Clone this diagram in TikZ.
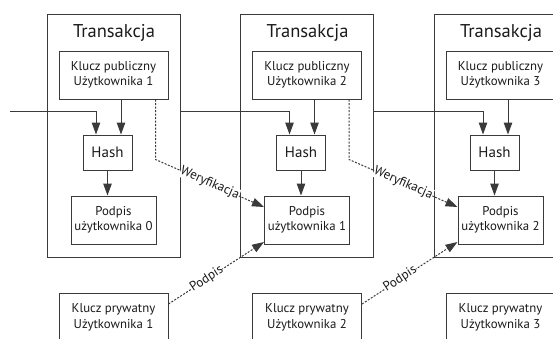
\documentclass[tikz,border=0pt]{standalone}
\usepackage{fontspec}
\setmainfont{PT Sans}
\usepackage{tikz}
\usetikzlibrary{arrows.meta, positioning}
\definecolor{bcline}{HTML}{3A3A3A}
\definecolor{bctext}{HTML}{1A1A1A}

\begin{document}
\begin{tikzpicture}[x=1pt, y=-1pt,
  txbox/.style={draw=bcline, line width=1pt, minimum width=133pt, minimum height=243pt},
  keybox/.style={draw=bcline, line width=1pt, fill=white, minimum width=109pt, minimum height=48pt, align=center, text=bctext, font=\fontsize{12.8}{15.5}\selectfont, inner sep=0pt},
  sigbox/.style={keybox, minimum width=85pt},
  hashbox/.style={keybox, minimum width=49pt, minimum height=35pt, font=\fontsize{15}{16}\selectfont},
  titletext/.style={text=bctext, font=\fontsize{18.5}{20}\selectfont},
  arr/.style={-{Triangle[length=12pt, width=8.5pt]}, bcline, line width=1pt},
  dasharr/.style={arr, dash pattern=on 2pt off 1.5pt},
  steplabel/.style={sloped, fill=white, inner sep=0.3pt, text=bctext, font=\fontsize{13}{14}\selectfont}
]
  \useasboundingbox (0,0) rectangle (553,338);
  \clip (0,0) rectangle (553,338);

  \foreach \i [evaluate=\i as \x using {193.5*(\i-1)}, evaluate=\i as \j using {int(\i-1)}] in {1,2,3} {
    \node[txbox] (tx\i) at (113.5+\x,135.5) {};
    \node[titletext] (title\i) at (114+\x,33) {Transakcja};
    \node[keybox] (pub\i) at (113.5+\x,75) {Klucz publiczny\\U\.zytkownika \i};
    \node[hashbox] (hash\i) at (107.5+\x,152.5) {Hash};
    \node[sigbox] (sig\i) at (113.5+\x,220) {Podpis\\u\.zytkownika \j};
    \node[keybox, anchor=north] (priv\i) at (113.5+\x,293) {Klucz prywatny\\U\.zytkownika \i};

    \coordinate (hl\i) at ([xshift=-11.5pt]hash\i.north);
    \coordinate (hr\i) at ([xshift=13.5pt]hash\i.north);
    \draw[arr] (pub\i.south -| hr\i) -- (hr\i);
    \draw[arr] (hash\i.south) -- (hash\i.south |- sig\i.north);
  }

  % chain of transactions
  \coordinate (start) at (10,111);
  \draw[arr] (start) -| (hl1);
  \draw[arr] (tx1.east |- start) -| (hl2);
  \draw[arr] (tx2.east |- start) -| (hl3);

  % verification and signing
  \foreach \i/\n in {1/2, 2/3} {
    \coordinate (vtop\i) at ([xshift=-13pt]pub\i.south east);
    \coordinate (vbend\i) at ([yshift=-60pt]vtop\i);
    \draw[dasharr] (vtop\i) -- (vbend\i) -- ([yshift=13pt]sig\n.west)
      node[steplabel, pos=0.5] {Weryfikacja};
    \draw[dasharr] ([yshift=-11pt]priv\i.north east) -- ([yshift=-22pt]sig\n.west)
      node[steplabel, pos=0.4] {Podpis};
  }
\end{tikzpicture}
\end{document}
